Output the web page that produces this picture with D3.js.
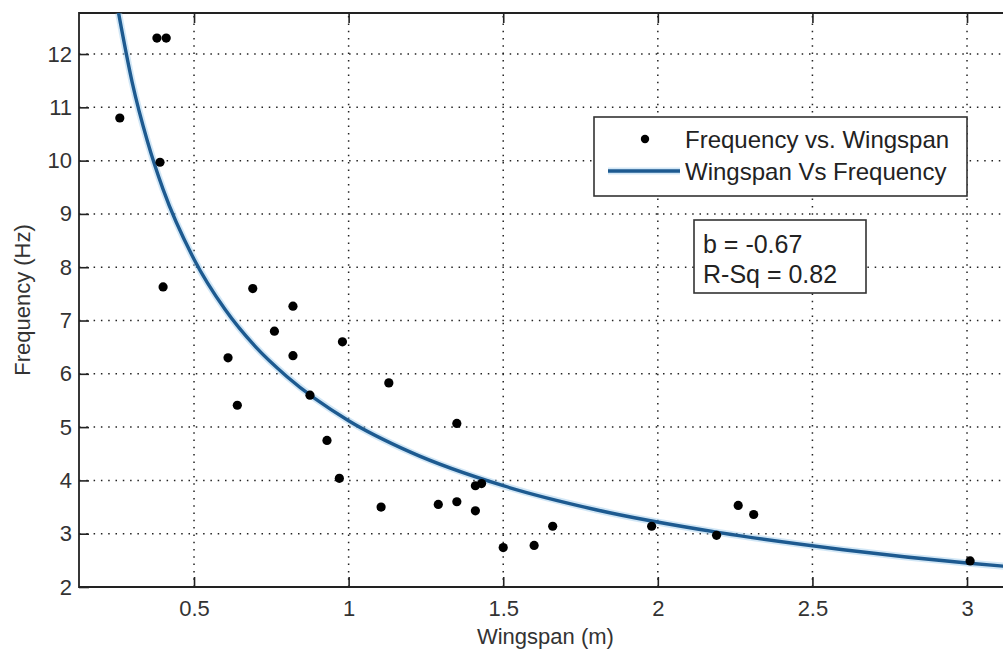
<!DOCTYPE html>
<html>
<head>
<meta charset="utf-8">
<script src="https://cdn.jsdelivr.net/npm/d3@7"></script>
<style>
  html, body { margin: 0; padding: 0; background: #ffffff; }
  svg { display: block; font-family: "Liberation Sans", Arial, sans-serif; }
</style>
</head>
<body>
<svg id="chart" width="1003" height="650"></svg>
<script>
// ---- data ----
const wingspan = [0.26, 0.38, 0.41, 0.39, 0.40, 0.69, 0.82, 0.76, 0.61, 0.82, 0.98, 0.64, 0.875, 0.93, 0.97,
                  1.13, 1.35, 1.105, 1.29, 1.35, 1.41, 1.41, 1.43, 1.50, 1.60, 1.66, 1.98, 2.19, 2.26, 2.31, 3.01];
const frequency = [10.8, 12.3, 12.3, 9.97, 7.63, 7.6, 7.27, 6.8, 6.3, 6.34, 6.6, 5.41, 5.6, 4.75, 4.04,
                   5.83, 5.07, 3.5, 3.55, 3.6, 3.43, 3.9, 3.94, 2.74, 2.78, 3.14, 3.14, 2.97, 3.53, 3.36, 2.49];
// fitted power curve
const fitX = [0.256, 0.3, 0.35, 0.4, 0.5, 0.6, 0.7, 0.8, 1.0, 1.2, 1.5, 1.8, 2.2, 2.6, 3.0, 3.16];
const fitY = [12.77, 11.47, 10.35, 9.46, 8.15, 7.21, 6.50, 5.95, 5.12, 4.53, 3.90, 3.45, 3.02, 2.70, 2.45, 2.37];
const xTicks = [0.5, 1, 1.5, 2, 2.5, 3];
const xTickLabels = ["0.5", "1", "1.5", "2", "2.5", "3"];
const yTicks = [2, 3, 4, 5, 6, 7, 8, 9, 10, 11, 12];
const legendLabels = ["Frequency vs. Wingspan", "Wingspan Vs Frequency"];
const statLines = ["b = -0.67", "R-Sq = 0.82"];
const xTitle = "Wingspan (m)";
const yTitle = "Frequency (Hz)";

// ---- layout ----
const L = 79, T = 13, B = 587;
const xDomain = [0.128, 3.145];
const pxPerUnit = 309.2;
const R = L + (xDomain[1] - xDomain[0]) * pxPerUnit;

const svg = d3.select("#chart");
const x = d3.scaleLinear().domain(xDomain).range([L, R]);
const y = d3.scaleLinear().domain([2, 12.77]).range([B, T]);

const ink = "#222";

// clip
svg.append("clipPath").attr("id", "plotclip")
  .append("rect").attr("x", L).attr("y", T).attr("width", R - L).attr("height", B - T);

// grid
const grid = svg.append("g").attr("stroke", ink).attr("stroke-width", 1.5)
  .attr("stroke-dasharray", "1.5,5.8").attr("fill", "none");
grid.selectAll("line.gx").data(xTicks).join("line")
  .attr("x1", d => x(d)).attr("x2", d => x(d)).attr("y1", B).attr("y2", T);
grid.selectAll("line.gy").data(yTicks.slice(1)).join("line")
  .attr("y1", d => y(d)).attr("y2", d => y(d)).attr("x1", L).attr("x2", R);

// axes via d3 axis generators (ticks inward)
const fontSize = 22;
const xAxis = d3.axisBottom(x).tickValues(xTicks).tickFormat((d, i) => xTickLabels[i])
  .tickSizeInner(-10).tickSizeOuter(0).tickPadding(13);
const gx = svg.append("g").attr("transform", `translate(0,${B})`).call(xAxis);
gx.select(".domain").remove();
gx.selectAll(".tick line").attr("stroke", ink).attr("stroke-width", 1.6);
gx.selectAll(".tick text").attr("font-size", fontSize).attr("fill", "#333")
  .attr("font-family", "Liberation Sans, Arial, sans-serif").attr("dy", "0.71em");

const xTop = d3.axisTop(x).tickValues(xTicks).tickFormat("").tickSizeInner(-10).tickSizeOuter(0);
const gxt = svg.append("g").attr("transform", `translate(0,${T})`).call(xTop);
gxt.select(".domain").remove();
gxt.selectAll(".tick line").attr("stroke", ink).attr("stroke-width", 1.6);

const yAxis = d3.axisLeft(y).tickValues(yTicks).tickFormat(d3.format("d"))
  .tickSizeInner(-10).tickSizeOuter(0).tickPadding(7);
const gy = svg.append("g").attr("transform", `translate(${L},0)`).call(yAxis);
gy.select(".domain").remove();
gy.selectAll(".tick line").attr("stroke", ink).attr("stroke-width", 1.6);
gy.selectAll(".tick text").attr("font-size", fontSize).attr("fill", "#333")
  .attr("font-family", "Liberation Sans, Arial, sans-serif");

// frame
svg.append("path")
  .attr("d", `M${R},${T} H${L} V${B} H${R}`)
  .attr("fill", "none").attr("stroke", ink).attr("stroke-width", 1.8);

// fit curve
const line = d3.line().x((d, i) => x(fitX[i])).y((d, i) => y(fitY[i])).curve(d3.curveMonotoneX);
const plot = svg.append("g").attr("clip-path", "url(#plotclip)");
plot.append("path").attr("d", line(fitX)).attr("fill", "none")
  .attr("stroke", "#9cc9ea").attr("stroke-opacity", 0.45).attr("stroke-width", 7);
plot.append("path").attr("d", line(fitX)).attr("fill", "none")
  .attr("stroke", "#1d5a90").attr("stroke-width", 3.4);

// points
plot.selectAll("circle.pt").data(wingspan).join("circle")
  .attr("class", "pt")
  .attr("cx", d => x(d)).attr("cy", (d, i) => y(frequency[i]))
  .attr("r", 4.6).attr("fill", "#000");

// legend
const leg = svg.append("g");
leg.append("rect").attr("x", 594).attr("y", 117).attr("width", 373).attr("height", 79)
  .attr("fill", "#fff").attr("stroke", "#333").attr("stroke-width", 1.6);
leg.append("circle").attr("cx", 645).attr("cy", 139).attr("r", 4.2).attr("fill", "#000");
leg.append("line").attr("x1", 608).attr("x2", 680).attr("y1", 171).attr("y2", 171)
  .attr("stroke", "#9cc9ea").attr("stroke-opacity", 0.45).attr("stroke-width", 7);
leg.append("line").attr("x1", 608).attr("x2", 680).attr("y1", 171).attr("y2", 171)
  .attr("stroke", "#1d5a90").attr("stroke-width", 3.4);
leg.selectAll("text").data(legendLabels).join("text")
  .attr("x", 685).attr("y", (d, i) => 148 + i * 32)
  .attr("font-size", 24).attr("fill", "#222").text(d => d);

// stats box
const sb = svg.append("g");
sb.append("rect").attr("x", 694).attr("y", 220).attr("width", 172).attr("height", 73)
  .attr("fill", "#fff").attr("stroke", "#333").attr("stroke-width", 1.6);
sb.selectAll("text").data(statLines).join("text")
  .attr("x", 703).attr("y", (d, i) => 253 + i * 30)
  .attr("font-size", 25).attr("fill", "#222").text(d => d);

// axis titles
svg.append("text").attr("x", (L + R) / 2).attr("y", 644).attr("text-anchor", "middle")
  .attr("font-size", fontSize).attr("fill", "#333").text(xTitle);
svg.append("text").attr("transform", `translate(30,${(T + B) / 2}) rotate(-90)`)
  .attr("text-anchor", "middle").attr("font-size", fontSize).attr("fill", "#333").text(yTitle);
</script>
</body>
</html>
